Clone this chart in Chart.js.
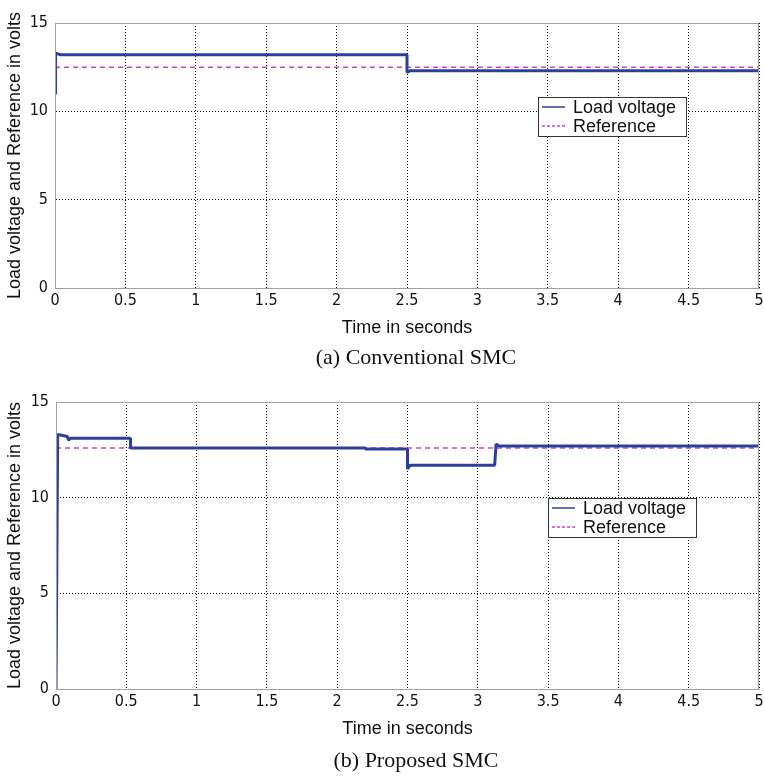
<!DOCTYPE html>
<html>
<head>
<meta charset="utf-8">
<script src="https://cdn.jsdelivr.net/npm/chart.js@4.4.1/dist/chart.umd.min.js"></script>
<style>
  body { margin: 0; background: #fff; width: 764px; height: 778px; position: relative; overflow: hidden; }
  canvas { position: absolute; left: 0; }
  .caption { position: absolute; left: 0; width: 832px; text-align: center; font-family: 'Liberation Serif', 'Times New Roman', serif; font-size: 22px; line-height: 26px; color: #111; }
</style>
</head>
<body>
<canvas id="chartA" width="764" height="345" style="top:0px"></canvas>
<div class="caption" style="top:344px">(a) Conventional SMC</div>
<canvas id="chartB" width="764" height="367" style="top:379px"></canvas>
<div class="caption" style="top:747px">(b) Proposed SMC</div>
<script>
// tick labels
const xTicks = [0, 0.5, 1, 1.5, 2, 2.5, 3, 3.5, 4, 4.5, 5];
const yTicks = [0, 5, 10, 15];

// (a) conventional SMC
const timeA = [0, 0.004, 0.02, 0.04, 2.5, 2.5, 2.52, 5];
const loadA = [11.0, 13.3, 13.25, 13.2, 13.2, 12.2, 12.3, 12.3];
const refTimeA = [0, 5];
const refA = [12.5, 12.5];

// (b) proposed SMC
const timeB = [0, 0.012, 0.05, 0.08, 0.09, 0.1, 0.2, 0.53, 0.53, 2.2, 2.2, 2.5, 2.5, 2.52, 3.12, 3.13, 3.15, 5];
const loadB = [0, 13.3, 13.25, 13.2, 13.0, 13.1, 13.1, 13.1, 12.6, 12.6, 12.55, 12.55, 11.5, 11.7, 11.7, 12.8, 12.7, 12.7];
const refTimeB = [0, 5];
const refB = [12.6, 12.6];

const BLUE = '#2c3f9e';
const MAGENTA = '#cc44cc';
const tickFont = { family: "'Liberation Sans Narrow', 'DejaVu Sans Condensed', 'Arial Narrow', sans-serif", size: 16 };
const titleFont = { family: "'Liberation Sans', Arial, sans-serif", size: 18 };

const toPoints = (xs, ys) => xs.map((x, i) => ({ x: x, y: ys[i] }));

// grey box round the plot area, like matlab
const frame = {
  id: 'frame',
  afterDraw(chart) {
    const { ctx, chartArea: a } = chart;
    ctx.save();
    ctx.strokeStyle = '#a0a0a0';
    ctx.lineWidth = 1;
    ctx.strokeRect(a.left + 0.5, a.top + 0.5, a.right - a.left - 1, a.bottom - a.top);
    ctx.restore();
  }
};

// boxed legend inside the plot
const boxLegend = {
  id: 'boxLegend',
  afterDraw(chart, args, opts) {
    const { ctx, chartArea: a } = chart;
    const w = 148, h = 39;
    const x = a.right - opts.right - w;
    const y = a.top + opts.top;
    ctx.save();
    ctx.fillStyle = '#fff';
    ctx.fillRect(x, y, w, h);
    ctx.strokeStyle = '#333';
    ctx.lineWidth = 1;
    ctx.strokeRect(x + 0.5, y + 0.5, w, h);
    ctx.font = "18px 'Liberation Sans', Arial, sans-serif";
    ctx.textBaseline = 'middle';
    ctx.fillStyle = '#111';
    chart.data.datasets.forEach((ds, i) => {
      const ly = y + 10 + i * 19;
      ctx.beginPath();
      ctx.strokeStyle = ds.borderColor;
      ctx.lineWidth = 1.5;
      ctx.setLineDash(ds.borderDash && ds.borderDash.length ? [3, 2] : []);
      ctx.moveTo(x + 4, ly);
      ctx.lineTo(x + 27, ly);
      ctx.stroke();
      ctx.setLineDash([]);
      ctx.fillText(ds.label, x + 35, ly + 1);
    });
    ctx.restore();
  }
};

function makeChart(el, load, ref, yWidth, legendPos) {
  return new Chart(document.getElementById(el), {
    type: 'line',
    data: {
      datasets: [
        {
          label: 'Load voltage',
          data: load,
          borderColor: BLUE,
          borderWidth: 3,
          borderJoinStyle: 'bevel',
          pointRadius: 0,
          tension: 0,
        },
        {
          label: 'Reference',
          data: ref,
          borderColor: MAGENTA,
          borderWidth: 1.5,
          borderDash: [5, 4],
          pointRadius: 0,
        },
      ],
    },
    options: {
      responsive: false,
      animation: false,
      layout: { padding: { top: 23, right: 5, left: 0, bottom: 0 } },
      plugins: {
        legend: { display: false },
        tooltip: { enabled: false },
        boxLegend: legendPos,
      },
      scales: {
        x: {
          type: 'linear',
          min: 0,
          max: 5,
          afterBuildTicks: (s) => { s.ticks = xTicks.map(v => ({ value: v })); },
          afterFit: (s) => { s.height = 57; s.paddingLeft = 0; s.paddingRight = 0; },
          ticks: { color: '#111', font: tickFont, padding: 3, maxRotation: 0, callback: (v) => String(v) },
          grid: { color: '#000', lineWidth: 1, drawTicks: false },
          border: { color: '#a0a0a0', dash: [1, 2] },
          title: { display: true, text: 'Time in seconds', color: '#111', font: titleFont, padding: { top: 0, bottom: 6 } },
        },
        y: {
          min: 0,
          max: 15,
          afterBuildTicks: (s) => { s.ticks = yTicks.map(v => ({ value: v })); },
          afterFit: (s) => { s.width = yWidth; s.paddingTop = 0; s.paddingBottom = 0; },
          ticks: { color: '#111', font: tickFont, padding: 7, callback: (v) => String(v) },
          grid: { color: '#000', lineWidth: 1, drawTicks: false },
          border: { color: '#a0a0a0', dash: [1, 2] },
          title: { display: true, text: 'Load voltage and Reference in volts', color: '#111', font: titleFont, padding: { top: 4, bottom: 0 } },
        },
      },
    },
    plugins: [frame, boxLegend],
  });
}

makeChart('chartA', toPoints(timeA, loadA), toPoints(refTimeA, refA), 55, { right: 73, top: 74 });
makeChart('chartB', toPoints(timeB, loadB), toPoints(refTimeB, refB), 56, { right: 63, top: 96 });
</script>
</body>
</html>
